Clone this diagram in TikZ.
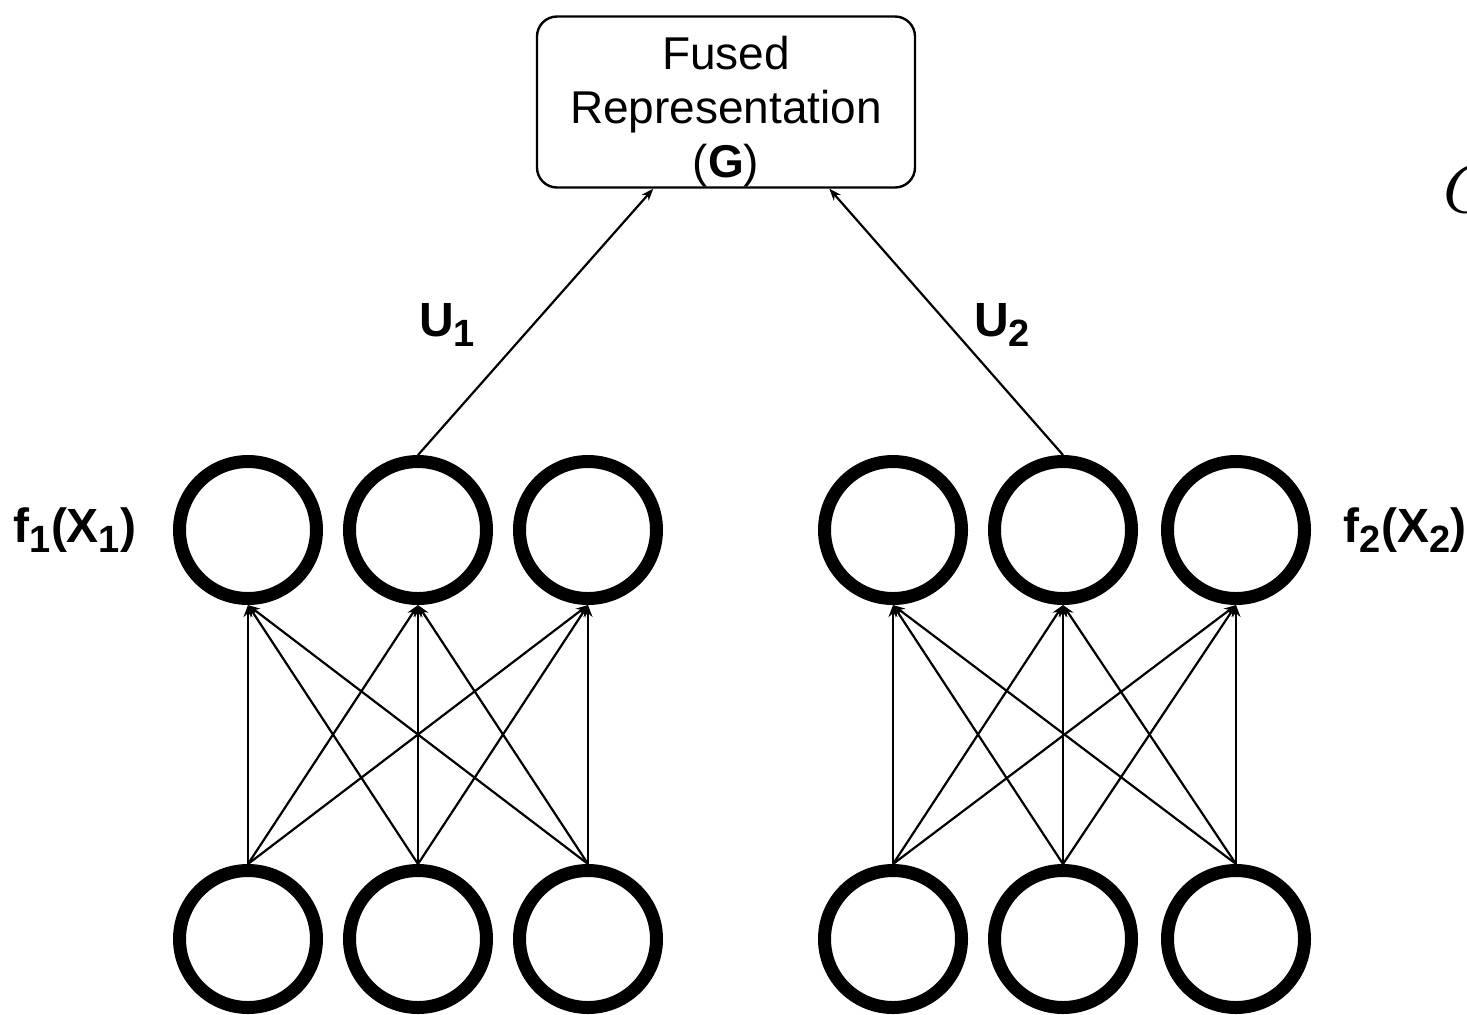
\documentclass[tikz,border=0pt]{standalone}
\usepackage{fontspec}
\setmainfont{Liberation Sans}
\usetikzlibrary{arrows.meta}
\newcommand\lowsub[1]{\raisebox{-5pt}{\fontsize{19}{20}\selectfont #1}}

\begin{document}
\begin{tikzpicture}[x=0.5pt,y=-0.5pt,font=\fontsize{23}{27}\selectfont]
\tikzstyle{neuron}=[circle,draw,line width=6.5pt,minimum size=68.5pt,inner sep=0pt]
\tikzstyle{fused box}=[draw,rounded corners=10pt,line width=1.2pt,minimum width=189pt,minimum height=85.5pt,align=center,inner sep=0pt]
\tikzstyle{link}=[line width=1.1pt,-{Stealth[length=6pt,width=4.5pt]}]
\tikzstyle{bold label}=[font=\fontsize{24}{28}\selectfont\bfseries]

\useasboundingbox (0,0) rectangle (1467,1014);

% fused representation
\node(G)[fused box] at (726,102) {\rule{0pt}{26pt}Fused\\Representation\\(\textbf{G})};

% first view
\node(a1)[neuron] at (248,530) {};
\node(a2)[neuron] at (418,530) {};
\node(a3)[neuron] at (588,530) {};
\node(x1)[neuron] at (248,939) {};
\node(x2)[neuron] at (418,939) {};
\node(x3)[neuron] at (588,939) {};

% second view
\node(b1)[neuron] at (893,530) {};
\node(b2)[neuron] at (1063,530) {};
\node(b3)[neuron] at (1236,530) {};
\node(y1)[neuron] at (893,939) {};
\node(y2)[neuron] at (1063,939) {};
\node(y3)[neuron] at (1236,939) {};

\draw[link] (x1.north) -- (a1.south);
\draw[link] (x1.north) -- (a2.south);
\draw[link] (x1.north) -- (a3.south);
\draw[link] (x2.north) -- (a1.south);
\draw[link] (x2.north) -- (a2.south);
\draw[link] (x2.north) -- (a3.south);
\draw[link] (x3.north) -- (a1.south);
\draw[link] (x3.north) -- (a2.south);
\draw[link] (x3.north) -- (a3.south);

\draw[link] (y1.north) -- (b1.south);
\draw[link] (y1.north) -- (b2.south);
\draw[link] (y1.north) -- (b3.south);
\draw[link] (y2.north) -- (b1.south);
\draw[link] (y2.north) -- (b2.south);
\draw[link] (y2.north) -- (b3.south);
\draw[link] (y3.north) -- (b1.south);
\draw[link] (y3.north) -- (b2.south);
\draw[link] (y3.north) -- (b3.south);

% projections to G
\draw[link] (a2.north) -- (G.230);
\draw[link] (b2.north) -- (G.320);

% labels
\node(u1)[bold label] at (447,325) {U\lowsub{1}};
\node(u2)[bold label] at (1002,325) {U\lowsub{2}};
\node(f1)[bold label] at (75,530) {f\lowsub{1}(X\lowsub{1})};
\node(f2)[bold label] at (1405,530) {f\lowsub{2}(X\lowsub{2})};
\node(c)[anchor=base west,inner sep=0pt,scale=3.4,font=\fontsize{10}{12}\selectfont] at (1442,212) {$C$};
\end{tikzpicture}
\end{document}
